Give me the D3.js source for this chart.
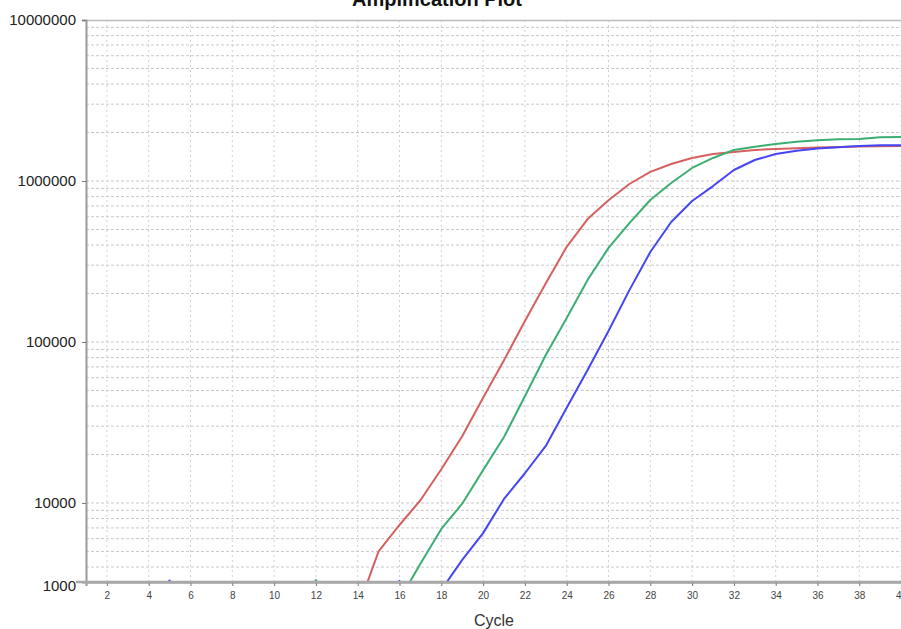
<!DOCTYPE html>
<html>
<head>
<meta charset="utf-8">
<script src="https://cdn.jsdelivr.net/npm/d3@7"></script>
<style>
  html, body { margin: 0; padding: 0; background: #fff; overflow: hidden; }
  svg { display: block; font-family: "Liberation Sans", Arial, sans-serif; }
</style>
</head>
<body>
<div class="chart"></div>
<script>
// cycles 1..40
const cycles = [1, 2, 3, 4, 5, 6, 7, 8, 9, 10, 11, 12, 13, 14, 15, 16, 17, 18, 19, 20,
  21, 22, 23, 24, 25, 26, 27, 28, 29, 30, 31, 32, 33, 34, 35, 36, 37, 38, 39, 40];

const redValues = [1900, 2100, 2000, 1800, 2200, 2000, 1900, 2300, 2100, 2000, 2200, 2400, 1800, 2200,
  5000, 7300, 10400, 16200, 26000, 45000, 77000, 135000, 232000, 390000, 580000, 760000, 958000,
  1140000, 1275000, 1390000, 1470000, 1515000, 1560000, 1580000, 1600000, 1615000, 1625000,
  1635000, 1645000, 1650000];

const greenValues = [2000, 1900, 2200, 2100, 1800, 2000, 2300, 2100, 1900, 2200, 2000, 3320, 2100, 1900,
  2300, 2500, 4200, 6900, 9900, 16000, 25700, 46000, 83000, 141000, 243000, 384000, 548000,
  762000, 972000, 1205000, 1390000, 1560000, 1630000, 1700000, 1750000, 1790000, 1815000,
  1825000, 1870000, 1875000];

const blueValues = [1800, 2100, 2000, 2400, 3300, 2200, 1900, 2000, 2100, 1800, 2000, 2200, 2100, 1900,
  2300, 3280, 2000, 2880, 4430, 6500, 10600, 15300, 22600, 39000, 67000, 117000, 210000,
  362000, 556000, 751000, 930000, 1170000, 1350000, 1470000, 1540000, 1590000, 1620000,
  1650000, 1665000, 1670000];

const xTicks = [2, 4, 6, 8, 10, 12, 14, 16, 18, 20, 22, 24, 26, 28, 30, 32, 34, 36, 38, 40];
const yFloor = 3230;            // where the plot's bottom edge sits
const yFloorLabel = "1000";     // label printed at that edge
const yTicks = [10000, 100000, 1000000, 10000000];

const series = [
  { name: "red", values: redValues, color: "#d4605f" },
  { name: "green", values: greenValues, color: "#3dae72" },
  { name: "blue", values: blueValues, color: "#4545f5" }
];

const containerWidth = 901;
const containerHeight = 629;
const margin = { top: 20, left: 86 };
const plotW = 836;   // runs past the right edge of the window
const plotH = 562;

const svg = d3.select(".chart").append("svg")
  .attr("width", containerWidth)
  .attr("height", containerHeight);

const g = svg.append("g")
  .attr("transform", `translate(${margin.left}, ${margin.top})`);

const x = d3.scaleLinear().domain([1, 41]).range([0, plotW]);
const y = d3.scaleLog().domain([yFloor, 10000000]).range([plotH, 0]);

// minor log grid values
const gridY = [];
[1000, 10000, 100000, 1000000].forEach(dec => {
  for (let k = 1; k <= 9; k++) {
    const v = dec * k;
    if (v > yFloor && v < 10000000) gridY.push(v);
  }
});

g.append("g").selectAll("line")
  .data(gridY)
  .enter().append("line")
  .attr("x1", 0).attr("x2", plotW)
  .attr("y1", d => y(d)).attr("y2", d => y(d))
  .attr("stroke", "#c8c8c8")
  .attr("stroke-width", 1)
  .attr("stroke-dasharray", "3,2");

g.append("g").selectAll("line")
  .data(xTicks)
  .enter().append("line")
  .attr("x1", d => x(d)).attr("x2", d => x(d))
  .attr("y1", 0).attr("y2", plotH)
  .attr("stroke", "#d0d0d0")
  .attr("stroke-width", 1)
  .attr("stroke-dasharray", "2,3");

// top border
g.append("line")
  .attr("x1", 0).attr("x2", plotW)
  .attr("y1", 0.5).attr("y2", 0.5)
  .attr("stroke", "#bdbdbd")
  .attr("stroke-width", 1.5);

// curves
g.append("clipPath").attr("id", "plotClip")
  .append("rect").attr("x", 0).attr("y", 0).attr("width", plotW).attr("height", plotH);

const line = d3.line()
  .x(d => x(d.cycle))
  .y(d => y(d.value));

g.append("g").attr("clip-path", "url(#plotClip)")
  .selectAll("path")
  .data(series)
  .enter().append("path")
  .attr("d", s => line(cycles.map((c, i) => ({ cycle: c, value: s.values[i] }))))
  .attr("fill", "none")
  .attr("stroke", s => s.color)
  .attr("stroke-width", 2)
  .attr("stroke-linejoin", "round");

// axes
const yAxis = g.append("g")
  .call(d3.axisLeft(y)
    .tickValues([yFloor].concat(yTicks))
    .tickFormat(d => d === yFloor ? yFloorLabel : String(d))
    .tickSize(4)
    .tickPadding(6));
yAxis.select(".domain").attr("stroke", "#9a9a9a").attr("stroke-width", 2);
yAxis.selectAll(".tick line").attr("stroke", "#777");
yAxis.selectAll(".tick text")
  .attr("font-size", 15)
  .attr("fill", "#222")
  .attr("font-family", "'Liberation Sans', Arial, sans-serif");
yAxis.selectAll(".tick text").filter(d => d === yFloor).attr("dy", "0.55em");

const xAxis = g.append("g")
  .attr("transform", `translate(0, ${plotH})`)
  .call(d3.axisBottom(x)
    .tickValues(xTicks)
    .tickFormat(d3.format("d"))
    .tickSize(4)
    .tickPadding(6));
xAxis.select(".domain").attr("stroke", "#a8a8a8").attr("stroke-width", 2.5);
xAxis.selectAll(".tick line").attr("stroke", "#777");
xAxis.selectAll(".tick text")
  .attr("font-size", 10)
  .attr("fill", "#444")
  .attr("font-family", "'Liberation Sans', Arial, sans-serif");

// bottom axis line drawn over the floor label
g.append("line")
  .attr("x1", -10).attr("x2", plotW)
  .attr("y1", plotH).attr("y2", plotH)
  .attr("stroke", "#a8a8a8")
  .attr("stroke-width", 2.5);

// titles
svg.append("text")
  .attr("x", 437)
  .attr("y", 6)
  .attr("text-anchor", "middle")
  .attr("font-size", 20)
  .attr("font-weight", "bold")
  .attr("fill", "#111")
  .text("Amplification Plot");

svg.append("text")
  .attr("x", 494)
  .attr("y", 626)
  .attr("text-anchor", "middle")
  .attr("font-size", 16)
  .attr("fill", "#333")
  .text("Cycle");
</script>
</body>
</html>
